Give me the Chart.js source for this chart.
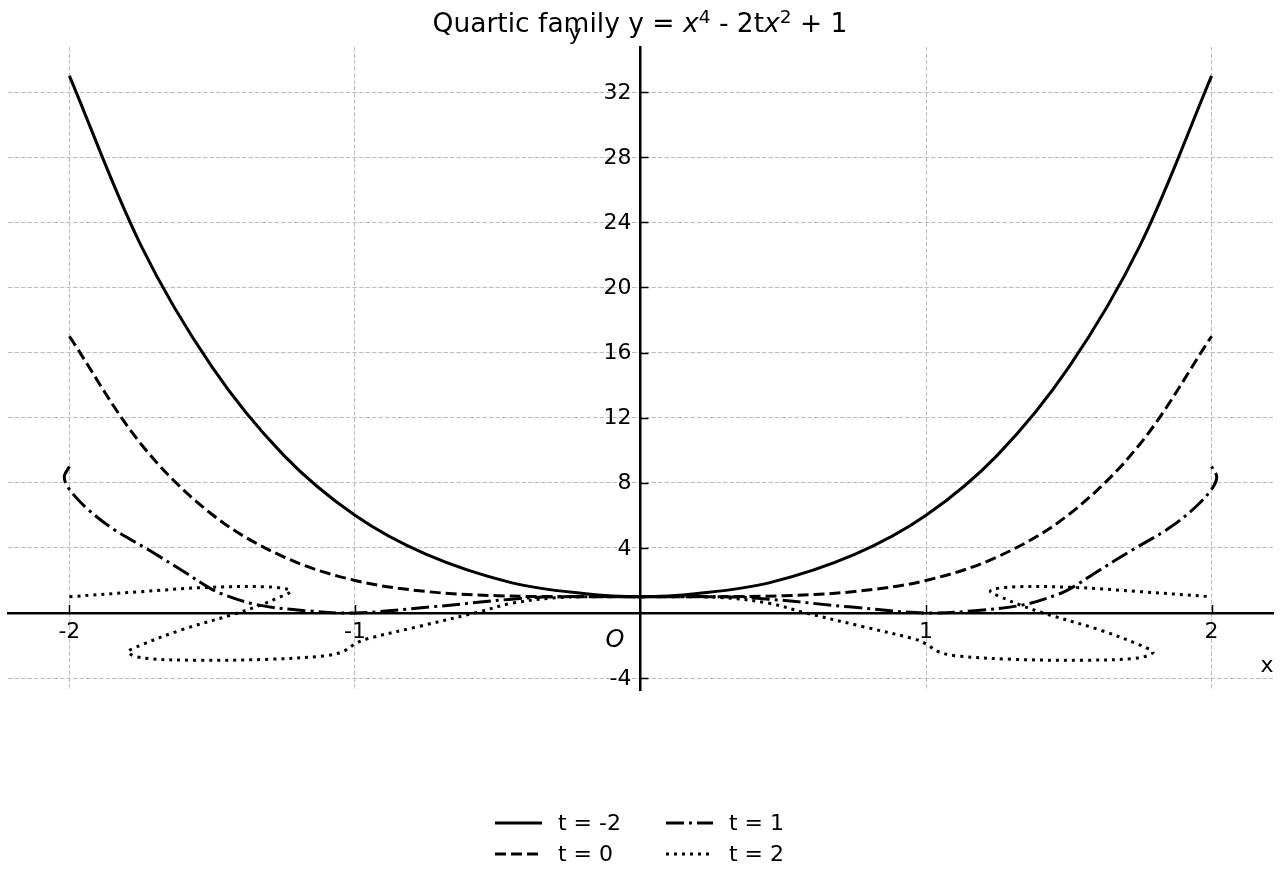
<!DOCTYPE html>
<html>
<head>
<meta charset="utf-8">
<title>Quartic family</title>
<script src="https://cdn.jsdelivr.net/npm/chart.js@4.4.0/dist/chart.umd.min.js"></script>
<style>
  html, body { margin: 0; padding: 0; background: #fff; }
  #wrap { width: 1280px; height: 880px; }
</style>
</head>
<body>
<div id="wrap"><canvas id="chart" width="1280" height="880"></canvas></div>
<script>
// Ticks shown on the centred axes (0 is left out, the origin gets an "O")
const xTicks = [-2, -1, 1, 2];
const yTicks = [-4, 4, 8, 12, 16, 20, 24, 28, 32];

const legendLabels = ['t = -2', 't = 0', 't = 1', 't = 2'];

// t = -2, solid
const tNeg2X = [-2, -1.75, -1.5, -1.25, -1, -0.75, -0.45, -0.2, 0, 0.2, 0.45, 0.75, 1, 1.25, 1.5, 1.75, 2];
const tNeg2Y = [33, 22.6, 15.1, 9.7, 6, 3.6, 1.85, 1.2, 1, 1.2, 1.85, 3.6, 6, 9.7, 15.1, 22.6, 33];

// t = 0, dashed
const t0X = [-2, -1.75, -1.5, -1.25, -1, -0.75, -0.5, -0.25, 0, 0.25, 0.5, 0.75, 1, 1.25, 1.5, 1.75, 2];
const t0Y = [17, 10.4, 6.05, 3.45, 2, 1.32, 1.06, 1.0, 1, 1.0, 1.06, 1.32, 2, 3.45, 6.05, 10.4, 17];

// t = 1, dash-dot (path as drawn, with the small hooks at x = +-2)
const t1X = [-2, -2.018, -2, -1.94, -1.85, -1.72, -1.6, -1.52, -1.47, -1.34, -1.17, -1, -0.73, -0.45, -0.3, 0,
             0.3, 0.45, 0.73, 1, 1.17, 1.34, 1.47, 1.52, 1.6, 1.72, 1.85, 1.94, 2, 2.018, 2];
const t1Y = [9, 8.35, 7.6, 6.45, 5.2, 3.85, 2.55, 1.65, 1.2, 0.5, 0.14, 0, 0.38, 0.85, 1.0, 1,
             1.0, 0.85, 0.38, 0, 0.14, 0.5, 1.2, 1.65, 2.55, 3.85, 5.2, 6.45, 7.6, 8.35, 9];

// t = 2, dotted (path as drawn, it folds back on itself on both sides)
const t2X = [-2, -1.75, -1.52, -1.3, -1.225, -1.28, -1.33, -1.41, -1.61, -1.76, -1.795, -1.74, -1.55, -1.3, -1.1, -1.04,
             -1.0, -0.96, -0.78, -0.58, -0.45, -0.3, -0.15, 0,
             0.15, 0.3, 0.45, 0.58, 0.78, 0.96, 1.0, 1.04, 1.1, 1.3, 1.55, 1.74, 1.795, 1.76, 1.61, 1.41,
             1.33, 1.28, 1.225, 1.3, 1.52, 1.75, 2];
const t2Y = [1.0, 1.31, 1.57, 1.6, 1.35, 0.85, 0.49, 0.0, -1.05, -2.05, -2.42, -2.77, -2.9, -2.84, -2.62, -2.35,
             -1.9, -1.6, -0.84, 0.0, 0.6, 0.93, 1.0, 1.0,
             1.0, 0.93, 0.6, 0.0, -0.84, -1.6, -1.9, -2.35, -2.62, -2.84, -2.9, -2.77, -2.42, -2.05, -1.05, 0.0,
             0.49, 0.85, 1.35, 1.6, 1.57, 1.31, 1.0];

const FONT = '"DejaVu Sans", "Liberation Sans", sans-serif';

function toPoints(xs, ys) {
  return xs.map((x, i) => ({ x: x, y: ys[i] }));
}

function makeDataset(label, xs, ys, dash) {
  return {
    label: label,
    data: toPoints(xs, ys),
    showLine: true,
    borderColor: '#000',
    backgroundColor: '#000',
    borderWidth: 3,
    borderDash: dash,
    borderJoinStyle: 'round',
    tension: 0.35,
    pointRadius: 0,
    pointHoverRadius: 0
  };
}

// Title, axis names, y tick labels, tick marks and legend drawn by hand
const decorations = {
  id: 'decorations',
  afterDraw(chart) {
    const ctx = chart.ctx;
    const xs = chart.scales.x;
    const ys = chart.scales.y;
    const x0 = xs.getPixelForValue(0);
    const y0 = ys.getPixelForValue(0);

    ctx.save();
    ctx.strokeStyle = '#000';
    ctx.fillStyle = '#000';

    // small tick marks on the inner side of the axes
    ctx.lineWidth = 1.5;
    xTicks.forEach(v => {
      const px = Math.round(xs.getPixelForValue(v)) + 0.5;
      ctx.beginPath(); ctx.moveTo(px, y0); ctx.lineTo(px, y0 - 8); ctx.stroke();
    });
    yTicks.forEach(v => {
      const py = Math.round(ys.getPixelForValue(v)) + 0.5;
      ctx.beginPath(); ctx.moveTo(x0, py); ctx.lineTo(x0 + 8, py); ctx.stroke();
    });

    // y tick labels, left of the y axis
    ctx.font = '22px ' + FONT;
    ctx.textAlign = 'right';
    ctx.textBaseline = 'middle';
    yTicks.forEach(v => {
      ctx.fillText(String(v), x0 - 9, ys.getPixelForValue(v) + 1);
    });

    // axis names and origin
    ctx.textBaseline = 'alphabetic';
    ctx.textAlign = 'center';
    ctx.font = '22px ' + FONT;
    ctx.fillText('x', 1267, 672);
    ctx.fillText('y', 575, 40);
    ctx.font = 'italic 24px ' + FONT;
    ctx.fillText('O', 615, 647);

    // title with italic x and superscripts
    const parts = [
      ['Quartic family y = ', 'n'], ['x', 'i'], ['4', 's'],
      [' - 2t', 'n'], ['x', 'i'], ['2', 's'], [' + 1', 'n']
    ];
    const fonts = { n: '26.5px ' + FONT, i: 'italic 26.5px ' + FONT, s: '18.5px ' + FONT };
    let total = 0;
    parts.forEach(p => { ctx.font = fonts[p[1]]; total += ctx.measureText(p[0]).width; });
    let cx = 640 - total / 2;
    ctx.textAlign = 'left';
    parts.forEach(p => {
      ctx.font = fonts[p[1]];
      ctx.fillText(p[0], cx, p[1] === 's' ? 23 : 32);
      cx += ctx.measureText(p[0]).width;
    });

    // legend: two columns, two rows
    chart.data.datasets.forEach((ds, i) => {
      const col = Math.floor(i / 2);
      const row = i % 2;
      const lx = 495 + col * 171;
      const ly = 823 + row * 31;
      ctx.lineWidth = 3;
      ctx.setLineDash(ds.borderDash || []);
      ctx.beginPath(); ctx.moveTo(lx, ly); ctx.lineTo(lx + 47, ly); ctx.stroke();
      ctx.setLineDash([]);
      ctx.font = '22px ' + FONT;
      ctx.textBaseline = 'middle';
      ctx.fillText(legendLabels[i], lx + 63, ly + 1);
    });

    ctx.restore();
  }
};

const tickFont = { family: FONT, size: 22 };

new Chart(document.getElementById('chart'), {
  type: 'scatter',
  data: {
    datasets: [
      makeDataset(legendLabels[0], tNeg2X, tNeg2Y, []),
      makeDataset(legendLabels[1], t0X, t0Y, [11, 5]),
      makeDataset(legendLabels[2], t1X, t1Y, [18, 5, 3, 5]),
      makeDataset(legendLabels[3], t2X, t2Y, [3, 5])
    ]
  },
  options: {
    responsive: false,
    animation: false,
    layout: { padding: { left: 8, right: 7, top: 47, bottom: 190 } },
    plugins: {
      legend: { display: false },
      title: { display: false },
      tooltip: { enabled: false }
    },
    scales: {
      x: {
        type: 'linear',
        min: -2.215,
        max: 2.215,
        position: { y: 0 },
        afterBuildTicks: scale => { scale.ticks = xTicks.map(v => ({ value: v })); },
        grid: { color: '#bdbdbd', lineWidth: 1, drawTicks: false },
        border: { display: true, color: '#000', width: 2.5, dash: [4.5, 2] },
        ticks: {
          color: '#000', font: tickFont, padding: 6,
          autoSkip: false, maxRotation: 0,
          callback: v => String(v)
        }
      },
      y: {
        type: 'linear',
        min: -4.73,
        max: 34.77,
        position: { x: 0 },
        afterBuildTicks: scale => { scale.ticks = yTicks.map(v => ({ value: v })); },
        grid: { color: '#bdbdbd', lineWidth: 1, drawTicks: false },
        border: { display: true, color: '#000', width: 2.5, dash: [4.5, 2] },
        ticks: { display: false }
      }
    }
  },
  plugins: [decorations]
});
</script>
</body>
</html>
